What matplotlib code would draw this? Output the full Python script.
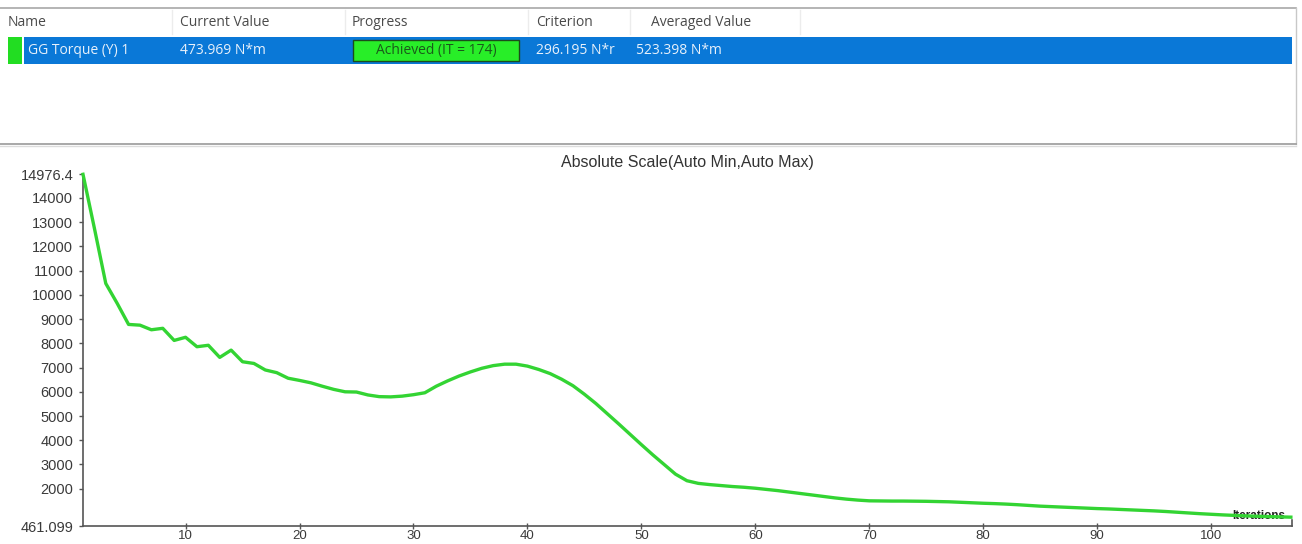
import matplotlib
matplotlib.use("Agg")
import matplotlib.pyplot as plt
from matplotlib.patches import Rectangle
from matplotlib.lines import Line2D

# ---- data -------------------------------------------------------------
columns = ["Name", "Current Value", "Progress", "Criterion", "Averaged Value"]
row_values = ["GG Torque (Y) 1", "473.969 N*m", "Achieved (IT = 174)", "296.195 N*r", "523.398 N*m"]

chart_title = "Absolute Scale(Auto Min,Auto Max)"
x_label = "Iterations"

iterations = list(range(1, 108))
torque = [
    14976.4, 12750, 10470, 9650, 8780, 8750, 8560, 8620, 8120, 8250,
    7860, 7920, 7420, 7720, 7240, 7170, 6900, 6790, 6560, 6470,
    6370, 6230, 6100, 6000, 5990, 5870, 5800, 5790, 5820, 5880,
    5960, 6230, 6450, 6650, 6820, 6970, 7080, 7140, 7140, 7060,
    6920, 6750, 6520, 6250, 5900, 5520, 5100, 4680, 4250, 3820,
    3400, 3000, 2600, 2330, 2220, 2170, 2130, 2090, 2060, 2020,
    1970, 1920, 1860, 1800, 1740, 1680, 1620, 1570, 1530, 1500,
    1495, 1490, 1490, 1485, 1480, 1470, 1460, 1440, 1420, 1400,
    1385, 1365, 1340, 1310, 1280, 1260, 1240, 1220, 1200, 1180,
    1165, 1145, 1125, 1105, 1085, 1060, 1030, 1000, 970, 945,
    920, 900, 880, 865, 850, 838, 826,
]

y_min, y_max = 461.099, 14976.4
y_ticks = [y_min] + list(range(2000, 15000, 1000)) + [y_max]
y_tick_labels = ["461.099"] + [str(v) for v in range(2000, 15000, 1000)] + ["14976.4"]
x_ticks = list(range(10, 101, 10))
x_max = 107.1

# ---- figure -----------------------------------------------------------
W, H = 1302, 544
fig = plt.figure(figsize=(W / 100, H / 100), dpi=100)
fig.patch.set_facecolor("white")


def fx(px):
    return px / W


def fy(py):
    return 1 - py / H


ui_font = "Open Sans"

# table header border
fig.add_artist(Line2D([fx(0), fx(1296)], [fy(8), fy(8)], color="#a8a8a8", lw=1.2))
fig.add_artist(Line2D([fx(1296), fx(1296)], [fy(8), fy(144)], color="#c8c8c8", lw=1.0))

col_x = [8, 180, 352, 536, 651]
sep_x = [172, 345, 528, 630, 800]
for sx in sep_x:
    fig.add_artist(Line2D([fx(sx), fx(sx)], [fy(10), fy(34)], color="#ececec", lw=1.0))
for cx, name in zip(col_x, columns):
    fig.text(fx(cx), fy(22), name, fontsize=10, family=ui_font, color="#4a4a4a",
             va="center", ha="left")

# selected row
fig.add_artist(Rectangle((fx(24), fy(64)), fx(1292 - 24), (64 - 37) / H,
                         facecolor="#0a78d7", edgecolor="none"))
fig.add_artist(Rectangle((fx(8), fy(64)), fx(14), (64 - 37) / H,
                         facecolor="#22dd22", edgecolor="none"))
# progress cell
fig.add_artist(Rectangle((fx(353), fy(61)), fx(166), (61 - 40) / H,
                         facecolor="#28ee28", edgecolor="#1b4d1b", lw=1.0))

row_x = [28, 180, 357, 536, 636]
for i, (cx, val) in enumerate(zip(row_x, row_values)):
    if i == 2:
        fig.text(fx(436), fy(50.5), val, fontsize=10, family=ui_font, color="#1a5a1a",
                 va="center", ha="center")
    else:
        fig.text(fx(cx), fy(50.5), val, fontsize=10, family=ui_font, color="#e8f1fb",
                 va="center", ha="left")

# panel separator
fig.add_artist(Line2D([fx(0), fx(1296)], [fy(144), fy(144)], color="#9a9a9a", lw=1.2))
fig.add_artist(Line2D([fx(0), fx(1296)], [fy(146), fy(146)], color="#dcdcdc", lw=1.0))

# chart title
fig.text(fx(687), fy(162), chart_title, fontsize=11.5, family="Liberation Sans",
         color="#333333", ha="center", va="center")

# ---- chart axes ---------------------------------------------------------
ax_left, ax_right, ax_top, ax_bottom = 83, 1292, 174.3, 526
ax = fig.add_axes([fx(ax_left), fy(ax_bottom), fx(ax_right - ax_left), (ax_bottom - ax_top) / H])
ax.set_facecolor("white")

ax.plot(iterations, torque, color="#33d433", lw=2.4, solid_joinstyle="round", clip_on=False, zorder=3)

ax.set_xlim(1, x_max)
ax.set_ylim(y_min, y_max)

ax.set_yticks(y_ticks)
ax.set_yticklabels(y_tick_labels)
ax.set_xticks(x_ticks)
ax.set_xticklabels([str(v) for v in x_ticks])

for side in ("top", "right"):
    ax.spines[side].set_visible(False)
for side in ("left", "bottom"):
    ax.spines[side].set_color("#555555")
    ax.spines[side].set_linewidth(1.2)

ax.tick_params(axis="y", direction="out", length=3, width=1, color="#555555",
               labelsize=10.5, labelcolor="#3a3a3a", pad=4)
ax.tick_params(axis="x", direction="inout", length=4, width=1, color="#555555",
               labelsize=9.5, labelcolor="#3a3a3a", pad=1)
for lab in ax.get_xticklabels() + ax.get_yticklabels():
    lab.set_family("Liberation Sans")

# end mark on the x axis
ax.plot([x_max, x_max], [y_min, y_min + 250], color="#555555", lw=1.2, clip_on=False)

ax.text(x_max - 0.6, y_min + 430, x_label, fontsize=8.5, family="Liberation Sans",
        fontweight="bold", color="#222222", ha="right", va="center", zorder=2)

fig.savefig("out.png", dpi=100, facecolor="white")
